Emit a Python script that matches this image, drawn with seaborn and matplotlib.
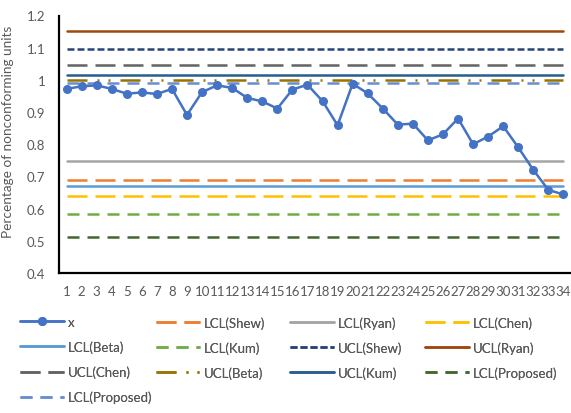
import numpy as np
import pandas as pd
import seaborn as sns
import matplotlib
matplotlib.use("Agg")
import matplotlib.pyplot as plt
from matplotlib.ticker import FuncFormatter

sns.set_style("white")
plt.rcParams['font.family'] = ['Lato', 'DejaVu Sans']

# ---- data ----
samples = list(range(1, 35))
x_values = [0.972, 0.980, 0.983, 0.972, 0.957, 0.961, 0.956, 0.972, 0.891, 0.962,
            0.983, 0.975, 0.944, 0.933, 0.911, 0.970, 0.985, 0.934, 0.859, 0.988,
            0.958, 0.911, 0.861, 0.864, 0.812, 0.831, 0.880, 0.800, 0.824, 0.856,
            0.790, 0.720, 0.658, 0.644]

limit_names = ["LCL(Shew)", "LCL(Ryan)", "LCL(Chen)", "LCL(Beta)", "LCL(Kum)",
               "UCL(Shew)", "UCL(Ryan)", "UCL(Chen)", "UCL(Beta)", "UCL(Kum)",
               "LCL(Proposed)", "LCL(Proposed) "]
limit_values = [0.688, 0.747, 0.639, 0.670, 0.583,
                1.096, 1.151, 1.045, 1.001, 1.016,
                0.511, 0.991]
y_ticks = [0.4, 0.5, 0.6, 0.7, 0.8, 0.9, 1.0, 1.1, 1.2]

# ---- styles ----
LW = 1.8
long_dash = (0, (8.0, 3.2))
dash = (0, (4.8, 3.2))
short_dash = (0, (2.8, 1.2))
dash_dot_dot = (0, (8.0, 4.0, 0.8, 3.6, 0.8, 4.0))
styles = {
    "LCL(Shew)": ("#ED7D31", long_dash),
    "LCL(Ryan)": ("#A5A5A5", "-"),
    "LCL(Chen)": ("#FFC000", long_dash),
    "LCL(Beta)": ("#5B9BD5", "-"),
    "LCL(Kum)": ("#70AD47", dash),
    "UCL(Shew)": ("#264478", short_dash),
    "UCL(Ryan)": ("#9E480E", "-"),
    "UCL(Chen)": ("#636363", long_dash),
    "UCL(Beta)": ("#997300", dash_dot_dot),
    "UCL(Kum)": ("#255E91", "-"),
    "LCL(Proposed)": ("#43682B", dash),
    "LCL(Proposed) ": ("#698ED0", dash),
}

W, H = 571, 414
fig = plt.figure(figsize=(W / 100, H / 100), dpi=100)
ax = fig.add_axes([59 / W, 1 - 274 / H, 1 - 59 / W, (274 - 16.5) / H])

handles = {}
for name, val in zip(limit_names, limit_values):
    col, ls = styles[name]
    sns.lineplot(x=samples, y=[val] * len(samples), ax=ax, color=col,
                 linestyle=ls, linewidth=LW, zorder=2)
    handles[name] = ax.lines[-1]

sns.lineplot(x=samples, y=x_values, ax=ax, color="#4472C4", linewidth=LW,
             marker="o", markersize=6.5, markeredgewidth=0, zorder=5)
handles["x"] = ax.lines[-1]

ax.set_xlim(0.5, 34.5)
ax.set_ylim(0.4, 1.2)
ax.set_xticks(samples)
ax.set_xticklabels([str(s) for s in samples])
ax.set_yticks(y_ticks)
ax.yaxis.set_major_formatter(FuncFormatter(lambda v, p: f"{v:g}"))
ax.tick_params(axis="both", length=0, labelsize=9.5, colors="#595959")
ax.tick_params(axis="x", pad=9)
ax.tick_params(axis="y", pad=10)
for s in ["top", "right"]:
    ax.spines[s].set_visible(False)
for s in ["left", "bottom"]:
    ax.spines[s].set_color("black")
    ax.spines[s].set_linewidth(1.6)
ax.grid(False)
ax.set_xlabel("")
ax.set_ylabel("Percentage of nonconforming units", fontsize=9.8, color="#595959")
ax.yaxis.set_label_coords((14 - 59) / (W - 59), (274 - 132) / (274 - 16.5))

columns = [
    ["x", "LCL(Beta)", "UCL(Chen)", "LCL(Proposed) "],
    ["LCL(Shew)", "LCL(Kum)", "UCL(Beta)"],
    ["LCL(Ryan)", "UCL(Shew)", "UCL(Kum)"],
    ["LCL(Chen)", "UCL(Ryan)", "LCL(Proposed)"],
]
col_x = [20, 156, 290, 425]
for cx, names in zip(col_x, columns):
    leg = fig.legend([handles[n] for n in names], [n.strip() for n in names],
                     loc="upper left", bbox_to_anchor=(cx / W, 1 - 317 / H),
                     bbox_transform=fig.transFigure, frameon=False,
                     borderpad=0, borderaxespad=0, handlelength=3.3,
                     handletextpad=0.3, labelspacing=0.95, fontsize=9.5,
                     labelcolor="#595959")
    fig.add_artist(leg)

fig.savefig("out.png", dpi=100)
